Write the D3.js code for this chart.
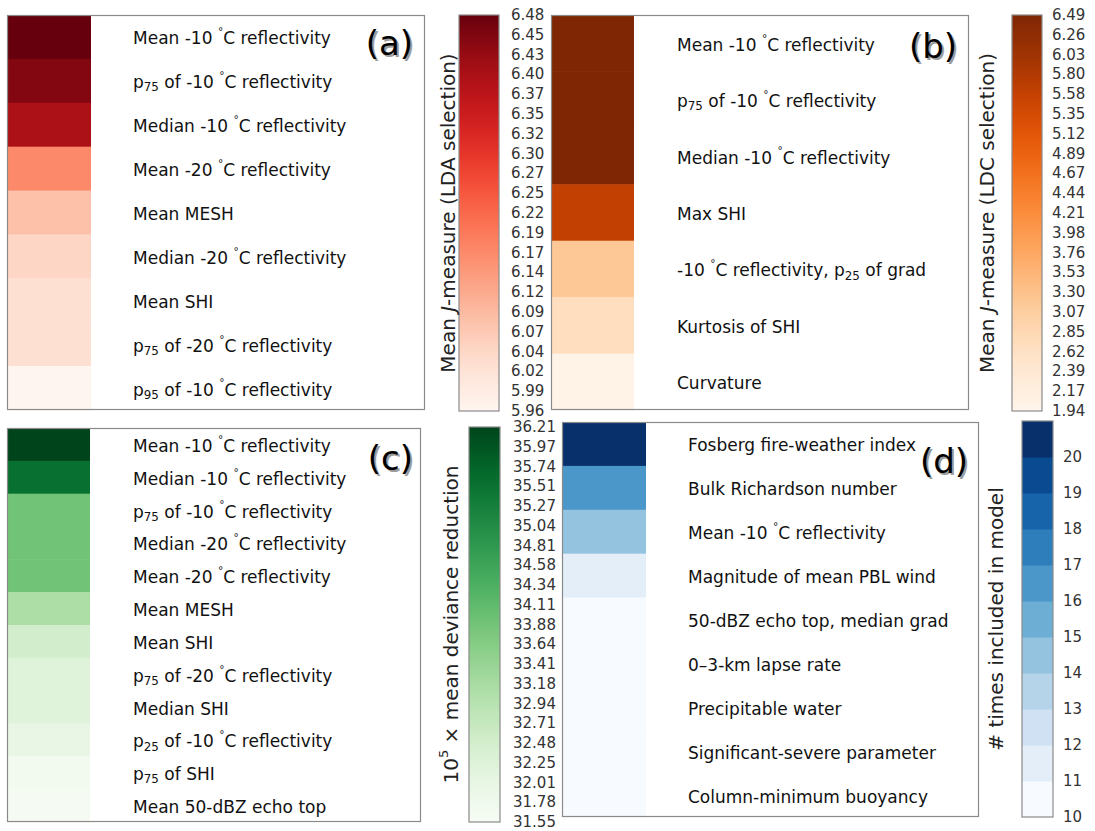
<!DOCTYPE html>
<html>
<head>
<meta charset="utf-8">
<script src="https://cdn.jsdelivr.net/npm/d3@7"></script>
<style>
  html, body { margin: 0; padding: 0; background: #fff; }
  svg { display: block; }
  text { font-family: "DejaVu Sans", sans-serif; }
</style>
</head>
<body>
<svg id="chart" width="1095" height="831"></svg>
<script>
// ---- Panel (a): LDA selection, mean J-measure ----
const labelsA = [
  "Mean -10 ^{°}C reflectivity",
  "p_{75} of -10 ^{°}C reflectivity",
  "Median -10 ^{°}C reflectivity",
  "Mean -20 ^{°}C reflectivity",
  "Mean MESH",
  "Median -20 ^{°}C reflectivity",
  "Mean SHI",
  "p_{75} of -20 ^{°}C reflectivity",
  "p_{95} of -10 ^{°}C reflectivity"
];
const valuesA = [6.48, 6.45, 6.40, 6.17, 6.08, 6.04, 6.02, 6.02, 5.96];
const domainA = [5.96, 6.48];
const ticksA = ["6.48","6.45","6.43","6.40","6.37","6.35","6.32","6.30","6.27","6.25","6.22",
                "6.19","6.17","6.14","6.12","6.09","6.07","6.04","6.02","5.99","5.96"];

// ---- Panel (b): LDC selection, mean J-measure ----
const labelsB = [
  "Mean -10 ^{°}C reflectivity",
  "p_{75} of -10 ^{°}C reflectivity",
  "Median -10 ^{°}C reflectivity",
  "Max SHI",
  "-10 ^{°}C reflectivity, p_{25} of grad",
  "Kurtosis of SHI",
  "Curvature"
];
const valuesB = [6.49, 6.49, 6.49, 5.60, 3.20, 2.70, 2.00];
const domainB = [1.94, 6.49];
const ticksB = ["6.49","6.26","6.03","5.80","5.58","5.35","5.12","4.89","4.67","4.44","4.21",
                "3.98","3.76","3.53","3.30","3.07","2.85","2.62","2.39","2.17","1.94"];

// ---- Panel (c): mean deviance reduction ----
const labelsC = [
  "Mean -10 ^{°}C reflectivity",
  "Median -10 ^{°}C reflectivity",
  "p_{75} of -10 ^{°}C reflectivity",
  "Median -20 ^{°}C reflectivity",
  "Mean -20 ^{°}C reflectivity",
  "Mean MESH",
  "Mean SHI",
  "p_{75} of -20 ^{°}C reflectivity",
  "Median SHI",
  "p_{25} of -10 ^{°}C reflectivity",
  "p_{75} of SHI",
  "Mean 50-dBZ echo top"
];
const valuesC = [36.21, 35.55, 33.90, 33.90, 33.90, 33.12, 32.50, 32.22, 32.22, 31.98, 31.72, 31.62];
const domainC = [31.55, 36.21];
const ticksC = ["36.21","35.97","35.74","35.51","35.27","35.04","34.81","34.58","34.34","34.11","33.88",
                "33.64","33.41","33.18","32.94","32.71","32.48","32.25","32.01","31.78","31.55"];

// ---- Panel (d): number of times included in model ----
const labelsD = [
  "Fosberg fire-weather index",
  "Bulk Richardson number",
  "Mean -10 ^{°}C reflectivity",
  "Magnitude of mean PBL wind",
  "50-dBZ echo top, median grad",
  "0–3-km lapse rate",
  "Precipitable water",
  "Significant-severe parameter",
  "Column-minimum buoyancy"
];
const valuesD = [20, 16, 14, 11, 10, 10, 10, 10, 10];
const domainD = [10, 21];
const ticksD = [10, 11, 12, 13, 14, 15, 16, 17, 18, 19, 20];

const svg = d3.select("#chart");
const defs = svg.append("defs");

// Writes a label with ^{..} superscripts and _{..} subscripts as tspans
function richText(sel, str, size) {
  const parts = str.split(/(\^\{[^}]*\}|_\{[^}]*\})/).filter(s => s.length);
  let shift = 0;
  parts.forEach(p => {
    let dy = 0, fs = size, txt = p;
    if (p.startsWith("^{")) { txt = p.slice(2, -1); fs = size * 0.62; dy = -size * 0.42; }
    else if (p.startsWith("_{")) { txt = p.slice(2, -1); fs = size * 0.7; dy = size * 0.3; }
    const t = sel.append("tspan").attr("font-size", fs).text(txt);
    const d = dy - shift;
    if (d !== 0) t.attr("dy", d);
    shift = dy;
  });
}

function drawPanel(cfg) {
  const g = svg.append("g");
  const color = d3.scaleSequential(cfg.interp).domain(cfg.domain);
  const y = d3.scaleBand().domain(d3.range(cfg.labels.length)).range([cfg.y0, cfg.y1]).paddingInner(0);

  g.append("rect")
    .attr("x", cfg.x0).attr("y", cfg.y0)
    .attr("width", cfg.x1 - cfg.x0).attr("height", cfg.y1 - cfg.y0)
    .attr("fill", "#fff");

  g.selectAll("rect.cell").data(cfg.values).join("rect")
    .attr("class", "cell")
    .attr("x", cfg.x0)
    .attr("y", (d, i) => y(i))
    .attr("width", cfg.cw)
    .attr("height", y.bandwidth() + 0.5)
    .attr("fill", d => cfg.colorOf ? cfg.colorOf(d) : color(d));

  g.selectAll("text.lab").data(cfg.labels).join("text")
    .attr("class", "lab")
    .attr("x", cfg.tx)
    .attr("y", (d, i) => y(i) + y.bandwidth() / 2 + 1.5)
    .attr("dominant-baseline", "central")
    .attr("fill", "#111")
    .attr("font-size", 17)
    .each(function (d) { richText(d3.select(this), d, 17); });

  g.append("rect")
    .attr("x", cfg.x0 + 0.5).attr("y", cfg.y0 + 0.5)
    .attr("width", cfg.x1 - cfg.x0 - 1).attr("height", cfg.y1 - cfg.y0 - 1)
    .attr("fill", "none").attr("stroke", "#8a8a8a").attr("stroke-width", 1.2);

  // panel letter with soft drop shadow
  const lx = cfg.x1 - cfg.letterDx, ly = cfg.y0 + cfg.letterDy;
  g.append("text").attr("x", lx + 2).attr("y", ly + 2).attr("text-anchor", "end")
    .attr("font-family", "Liberation Sans, Arial, sans-serif").attr("font-size", 34)
    .attr("fill", "#8c8c8c").attr("opacity", 0.85).text(cfg.letter);
  g.append("text").attr("x", lx).attr("y", ly).attr("text-anchor", "end")
    .attr("font-family", "Liberation Sans, Arial, sans-serif").attr("font-size", 34)
    .attr("fill", "#000").text(cfg.letter);
}

function drawColorbar(cfg) {
  const g = svg.append("g");
  const y = d3.scaleLinear().domain(cfg.domain).range([cfg.y1, cfg.y0]);
  if (cfg.discrete) {
    const n = cfg.domain[1] - cfg.domain[0];
    const bins = d3.range(cfg.domain[0], cfg.domain[1]);
    g.selectAll("rect.bin").data(bins).join("rect")
      .attr("x", cfg.x0).attr("width", cfg.x1 - cfg.x0)
      .attr("y", d => y(d + 1)).attr("height", d => y(d) - y(d + 1) + 0.5)
      .attr("fill", d => cfg.interp((d - cfg.domain[0]) / (n - 1)));
  } else {
    const id = "grad" + cfg.id;
    const grad = defs.append("linearGradient").attr("id", id)
      .attr("x1", 0).attr("y1", 1).attr("x2", 0).attr("y2", 0);
    const color = d3.scaleSequential(cfg.interp).domain(cfg.domain);
    d3.range(0, 1.0001, 0.02).forEach(t => {
      grad.append("stop").attr("offset", t)
        .attr("stop-color", color(cfg.domain[0] + t * (cfg.domain[1] - cfg.domain[0])));
    });
    g.append("rect").attr("x", cfg.x0).attr("y", cfg.y0)
      .attr("width", cfg.x1 - cfg.x0).attr("height", cfg.y1 - cfg.y0)
      .attr("fill", `url(#${id})`);
  }
  g.append("rect").attr("x", cfg.x0).attr("y", cfg.y0)
    .attr("width", cfg.x1 - cfg.x0).attr("height", cfg.y1 - cfg.y0)
    .attr("fill", "none").attr("stroke", "#8a8a8a").attr("stroke-width", 1.2);

  // tick labels: evenly spaced across the bar, or at the integer levels
  const tickY = cfg.discrete
    ? cfg.ticks.map(v => y(v))
    : cfg.ticks.map((v, i) => d3.scaleLinear().domain([0, cfg.ticks.length - 1]).range([cfg.y0, cfg.y1])(i));
  g.selectAll("text.tick").data(cfg.ticks).join("text")
    .attr("class", "tick")
    .attr("x", cfg.x1 + cfg.tickGap)
    .attr("y", (d, i) => tickY[i])
    .attr("dominant-baseline", "central")
    .attr("font-size", 15).attr("fill", "#333")
    .text(d => d);

  const cy = (cfg.y0 + cfg.y1) / 2;
  const t = g.append("text")
    .attr("transform", `translate(${cfg.lx},${cy}) rotate(-90)`)
    .attr("text-anchor", "middle").attr("dominant-baseline", "central")
    .attr("font-size", 20).attr("fill", "#222");
  cfg.title(t);
}

drawPanel({ labels: labelsA, values: valuesA, domain: domainA, interp: d3.interpolateReds,
  x0: 7, x1: 425, y0: 15, y1: 410, cw: 84, tx: 133, letter: "(a)", letterDx: 12, letterDy: 40 });
drawColorbar({ id: "a", domain: domainA, ticks: ticksA, interp: d3.interpolateReds,
  x0: 459, x1: 499, y0: 15, y1: 411, tickGap: 12, lx: 448,
  title: t => { t.append("tspan").text("Mean ");
    t.append("tspan").attr("font-style", "italic").text("J");
    t.append("tspan").text("-measure (LDA selection)"); } });

drawPanel({ labels: labelsB, values: valuesB, domain: domainB, interp: d3.interpolateOranges,
  x0: 551, x1: 969, y0: 15, y1: 410, cw: 83, tx: 677, letter: "(b)", letterDx: 12, letterDy: 43 });
drawColorbar({ id: "b", domain: domainB, ticks: ticksB, interp: d3.interpolateOranges,
  x0: 1012, x1: 1042, y0: 15, y1: 411, tickGap: 10, lx: 987,
  title: t => { t.append("tspan").text("Mean ");
    t.append("tspan").attr("font-style", "italic").text("J");
    t.append("tspan").text("-measure (LDC selection)"); } });

drawPanel({ labels: labelsC, values: valuesC, domain: domainC, interp: d3.interpolateGreens,
  x0: 7, x1: 421, y0: 428, y1: 822, cw: 83, tx: 133, letter: "(c)", letterDx: 8, letterDy: 42 });
drawColorbar({ id: "c", domain: domainC, ticks: ticksC, interp: d3.interpolateGreens,
  x0: 469, x1: 500, y0: 427, y1: 822, tickGap: 13, lx: 451,
  title: t => { t.append("tspan").text("10");
    t.append("tspan").attr("font-size", 13).attr("dy", -8).text("5");
    t.append("tspan").attr("dy", 8).text(" × mean deviance reduction"); } });

const blues = d3.scaleSequential(d3.interpolateBlues).domain([0, 10]);
drawPanel({ labels: labelsD, values: valuesD, domain: domainD, interp: d3.interpolateBlues,
  colorOf: v => blues(Math.min(v, 20) - 10),
  x0: 562, x1: 979, y0: 422, y1: 817, cw: 84, tx: 688, letter: "(d)", letterDx: 11, letterDy: 51 });
drawColorbar({ id: "d", domain: domainD, ticks: ticksD, interp: d3.interpolateBlues, discrete: true,
  x0: 1022, x1: 1053, y0: 421, y1: 817, tickGap: 10, lx: 996,
  title: t => t.text("# times included in model") });
</script>
</body>
</html>
